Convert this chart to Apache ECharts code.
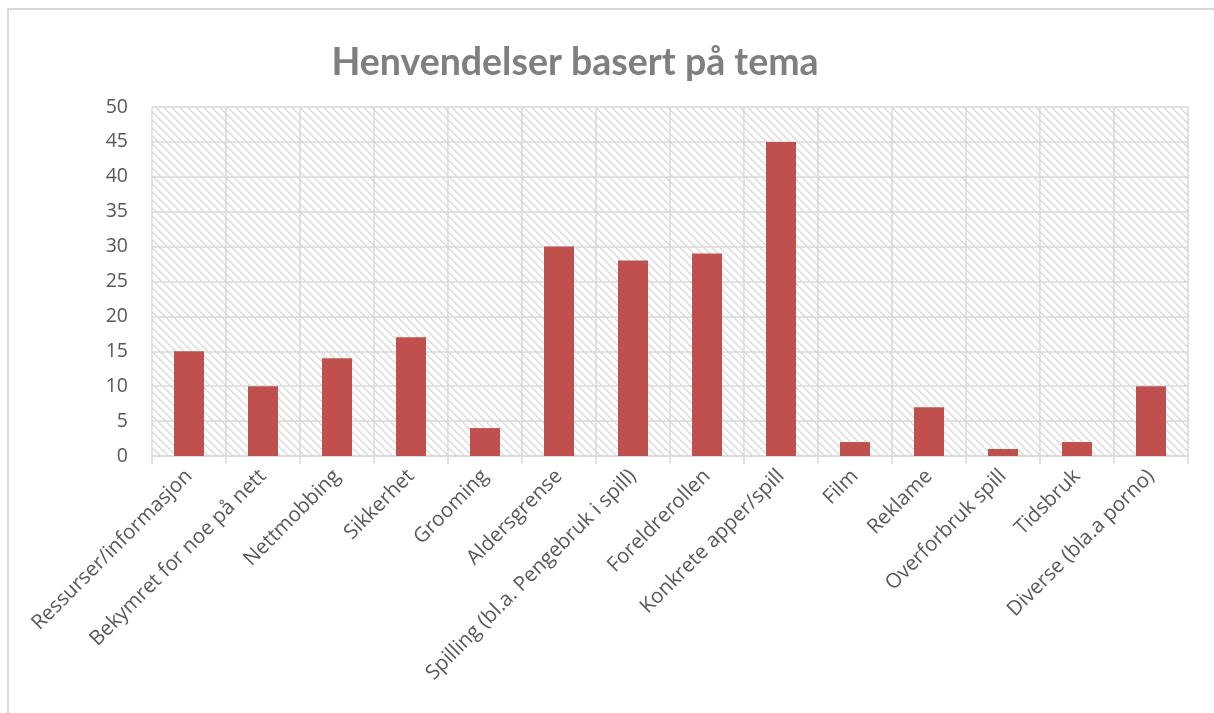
<!DOCTYPE html>
<html>
<head>
<meta charset="utf-8">
<script src="https://cdn.jsdelivr.net/npm/echarts@6/dist/echarts.min.js"></script>
<style>
  html, body { margin: 0; padding: 0; background: #fff; }
  #chart { width: 1214px; height: 713px; }
</style>
</head>
<body>
<div id="chart"></div>
<script>
const categories = [
  'Ressurser/informasjon', 'Bekymret for noe på nett', 'Nettmobbing', 'Sikkerhet',
  'Grooming', 'Aldersgrense', 'Spilling (bl.a. Pengebruk i spill)', 'Foreldrerollen',
  'Konkrete apper/spill', 'Film', 'Reklame', 'Overforbruk spill', 'Tidsbruk',
  'Diverse (bla.a porno)'
]
const values = [15, 10, 14, 17, 4, 30, 28, 29, 45, 2, 7, 1, 2, 10]
const yTicks = { min: 0, max: 50, interval: 5 }

// diagonal hatch for the plot area
function hatch () {
  const c = document.createElement('canvas')
  c.width = 8
  c.height = 8
  const ctx = c.getContext('2d')
  ctx.fillStyle = '#dcdcdc'
  for (let i = 0; i < 8; i++) {
    ctx.fillRect(i, i, 1, 1)
    ctx.fillRect((i + 1) % 8, i, 1, 1)
  }
  return c
}

const chart = echarts.init(document.getElementById('chart'), null, { renderer: 'canvas' })
chart.setOption({
  animation: false,
  backgroundColor: '#fff',
  textStyle: { fontFamily: 'Open Sans' },
  title: {
    text: 'Henvendelser basert på tema',
    left: 570,
    top: 39,
    textAlign: 'center',
    textStyle: { fontFamily: 'Lato', fontWeight: 'bold', fontSize: 37.5, color: '#7f7f7f' }
  },
  graphic: [{
    type: 'rect',
    shape: { x: 8, y: 9, width: 1220, height: 720 },
    style: { fill: 'none', stroke: '#d9d9d9', lineWidth: 2 },
    silent: true
  }],
  grid: {
    left: 152, right: 26, top: 107, bottom: 257,
    show: true,
    borderWidth: 0,
    backgroundColor: { image: hatch(), repeat: 'repeat' }
  },
  xAxis: {
    type: 'category',
    data: categories,
    axisLine: { lineStyle: { color: '#d9d9d9', width: 1.5 } },
    axisTick: { show: true, length: 8, lineStyle: { color: '#d9d9d9', width: 1.5 } },
    splitLine: { show: true, lineStyle: { color: '#d9d9d9', width: 1.5 } },
    axisLabel: { rotate: 45, interval: 0, fontSize: 20.5, color: '#595959', margin: 17, fontFamily: 'Open Sans' }
  },
  yAxis: {
    type: 'value',
    min: yTicks.min,
    max: yTicks.max,
    interval: yTicks.interval,
    axisLine: { show: false },
    axisTick: { show: false },
    splitLine: { lineStyle: { color: '#d9d9d9', width: 1.5 } },
    axisLabel: { fontSize: 19.5, color: '#595959', margin: 24, fontFamily: 'Open Sans' }
  },
  series: [{
    type: 'bar',
    data: values,
    barWidth: 30,
    itemStyle: { color: '#c0504d' }
  }]
})
</script>
</body>
</html>
